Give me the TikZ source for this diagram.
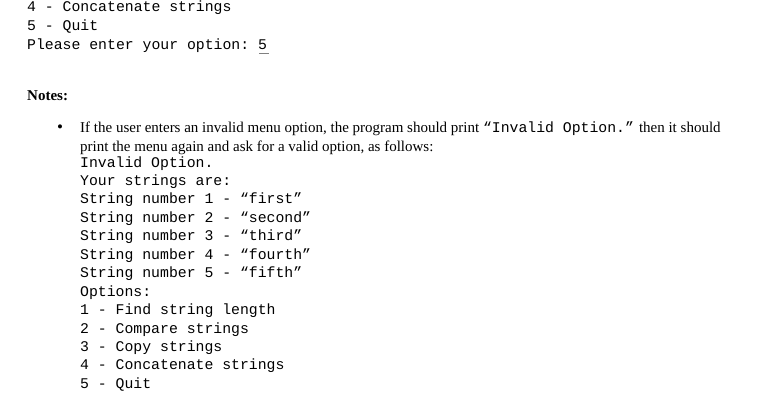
\documentclass[tikz,border=0pt]{standalone}
\usepackage{fontspec}
\setmainfont{Liberation Serif}
\setmonofont{Liberation Mono}
\begin{document}
\begin{tikzpicture}[x=1pt,y=-1pt,
  mono/.style={anchor=base west,inner sep=0pt,font=\fontsize{14.8}{16}\ttfamily},
  serif/.style={anchor=base west,inner sep=0pt,font=\fontsize{15}{17}\selectfont}]
\useasboundingbox[fill=white] (0,0) rectangle (775,404);
\node[mono] (a1) at (27,12) {4 - Concatenate strings};
\node[mono] (a2) at (27,30.5) {5 - Quit};
\node[mono] (a3) at (27,49) {Please enter your option: 5};
\draw[gray,line width=0.8pt] (259,53.5) -- (269,53.5);
\node[serif,font=\fontsize{15}{17}\bfseries] (notes) at (27,100) {Notes:};
\node[serif,font=\fontsize{17}{17}\selectfont] (bul) at (57,132) {•};
\node[serif] (p1) at (80,132) {If the user enters an invalid menu option, the program should print {\fontsize{14.8}{16}\ttfamily“Invalid Option.”} then it should};
\node[serif] (p2) at (80,151) {print the menu again and ask for a valid option, as follows:};
\foreach \t [count=\i] in {Invalid Option.,Your strings are:,String number 1 - “first”,String number 2 - “second”,String number 3 - “third”,String number 4 - “fourth”,String number 5 - “fifth”,Options:,1 - Find string length,2 - Compare strings,3 - Copy strings,4 - Concatenate strings,5 - Quit}
  \node[mono] (m\i) at (80,{167+18.45*(\i-1)}) {\t};
\end{tikzpicture}
\end{document}
